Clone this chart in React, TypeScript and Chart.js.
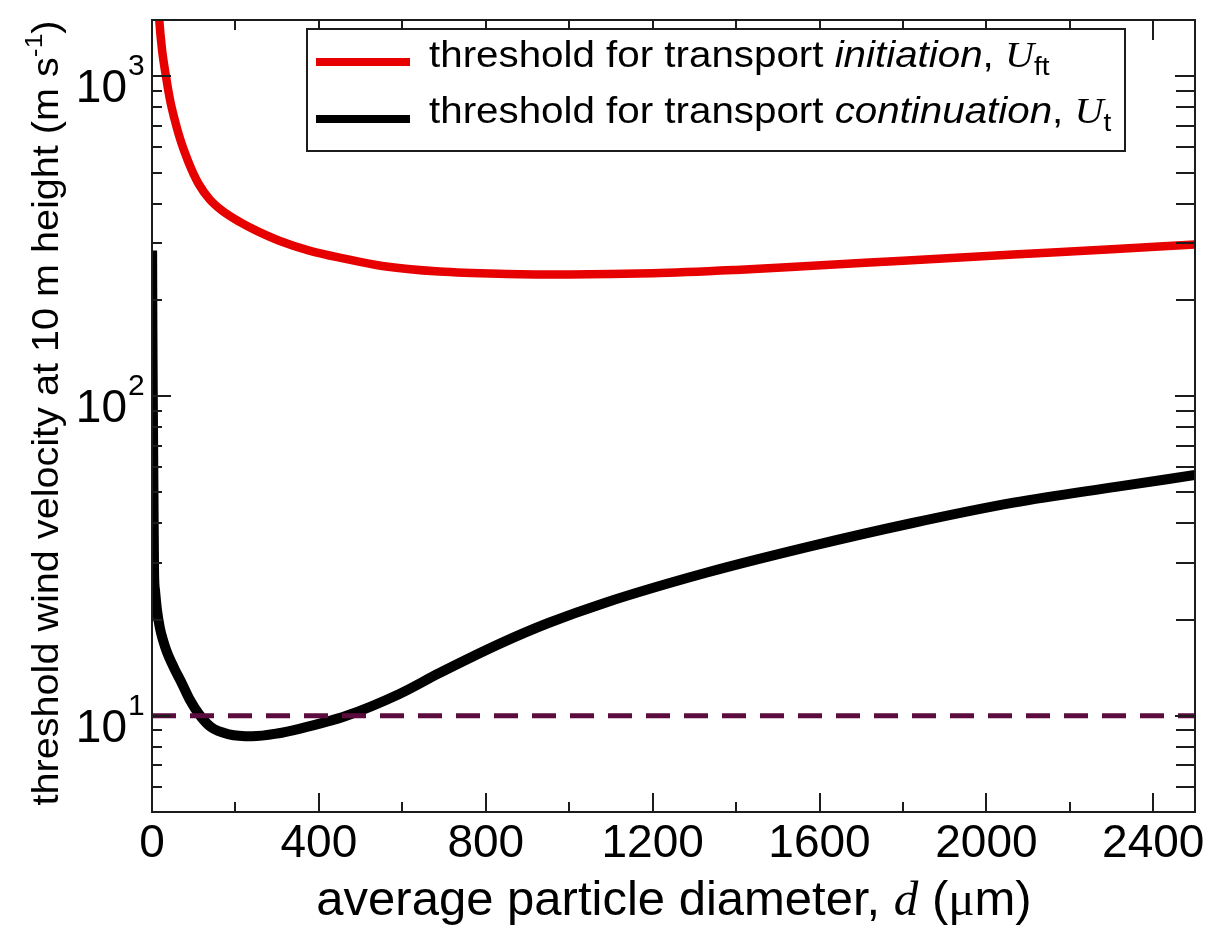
import React, { useEffect, useRef } from 'react';
import { Chart, registerables } from 'chart.js';

Chart.register(...registerables);

// ---- data ----
const diameterInitiation = [12, 17, 24, 34, 43, 53, 65, 77, 94, 113, 139, 168, 209, 250, 305, 377, 461, 552, 689, 850, 1000, 1200, 1400, 1573, 1800, 2065, 2300, 2500];
const thresholdInitiation = [2000, 1525, 1212, 990, 846, 743, 652, 585, 514, 458, 411, 380, 351, 329, 306, 285, 269, 255, 245, 241, 240, 242, 248, 255, 265, 277, 288, 298];

const diameterContinuation = [0.3, 1, 2, 3.5, 5, 7.2, 12, 19, 26, 36, 53, 72, 91, 113, 142, 185, 240, 300, 353, 466, 593, 689, 838, 950, 1083, 1328, 1575, 1820, 2065, 2310, 2500];
const thresholdContinuation = [285, 160, 95, 50, 28, 24.7, 21.4, 18.8, 17.3, 15.8, 14.1, 12.6, 11.2, 10.1, 9.2, 8.75, 8.63, 8.8, 9.1, 10, 11.7, 13.6, 16.9, 19.5, 22.5, 28, 33.8, 40, 46.4, 52, 56.6];

const referenceDiameter = [0, 2500];
const referenceVelocity = [10, 10];

const xMajorTicks = [0, 400, 800, 1200, 1600, 2000, 2400];
const xMinorTicks = [200, 600, 1000, 1400, 1800, 2200];
const yMajorTicks = [10, 100, 1000];
const yMinorTicks = [6, 7, 8, 9, 20, 30, 40, 50, 60, 70, 80, 90, 200, 300, 400, 500, 600, 700, 800, 900];

const X_MIN = 0, X_MAX = 2500, Y_MIN = 5, Y_MAX = 1500;

const SANS = "'Liberation Sans', Arial, Helvetica, sans-serif";
const SERIF = "'Liberation Serif', 'Times New Roman', serif";

type Seg = { text: string; font: string; dy?: number };

function drawSegs(ctx: CanvasRenderingContext2D, segs: Seg[], x: number, y: number, k: number, align: 'left' | 'center' | 'right', rotate = 0) {
  ctx.save();
  ctx.translate(x, y);
  if (rotate) ctx.rotate(rotate);
  ctx.scale(k, 1);
  ctx.textAlign = 'left';
  ctx.textBaseline = 'alphabetic';
  let total = 0;
  const widths: number[] = [];
  for (const s of segs) {
    ctx.font = s.font;
    const w = ctx.measureText(s.text).width;
    widths.push(w);
    total += w;
  }
  let cx = align === 'center' ? -total / 2 : align === 'right' ? -total : 0;
  segs.forEach((s, i) => {
    ctx.font = s.font;
    ctx.fillText(s.text, cx, s.dy || 0);
    cx += widths[i];
  });
  ctx.restore();
}

const framePlugin = {
  id: 'framePlugin',
  afterDatasetsDraw(chart: any) {
    const { ctx, chartArea: a, scales } = chart;
    const xs = scales.x;
    const ys = scales.y;
    ctx.save();
    ctx.strokeStyle = '#1c1c1c';
    ctx.lineWidth = 2;
    ctx.beginPath();
    for (const v of xMajorTicks) {
      const px = Math.round(xs.getPixelForValue(v));
      ctx.moveTo(px, a.bottom); ctx.lineTo(px, a.bottom - 19);
      ctx.moveTo(px, a.top); ctx.lineTo(px, a.top + 20);
    }
    for (const v of xMinorTicks) {
      const px = Math.round(xs.getPixelForValue(v));
      ctx.moveTo(px, a.bottom); ctx.lineTo(px, a.bottom - 10);
      ctx.moveTo(px, a.top); ctx.lineTo(px, a.top + 10);
    }
    for (const v of yMajorTicks) {
      const py = Math.round(ys.getPixelForValue(v));
      ctx.moveTo(a.left, py); ctx.lineTo(a.left + 19, py);
      ctx.moveTo(a.right, py); ctx.lineTo(a.right - 20, py);
    }
    for (const v of yMinorTicks) {
      const py = Math.round(ys.getPixelForValue(v));
      ctx.moveTo(a.left, py); ctx.lineTo(a.left + 10, py);
      ctx.moveTo(a.right, py); ctx.lineTo(a.right - 19, py);
    }
    ctx.stroke();
    ctx.strokeRect(a.left, a.top, a.right - a.left, a.bottom - a.top);

    // tick labels
    ctx.fillStyle = '#000';
    for (const v of xMajorTicks) {
      const px = xs.getPixelForValue(v);
      drawSegs(ctx, [{ text: String(v), font: `46px ${SANS}` }], px, 857, 1, 'center');
    }
    for (const v of yMajorTicks) {
      const py = ys.getPixelForValue(v);
      const exp = String(Math.round(Math.log10(v)));
      drawSegs(ctx, [{ text: '10', font: `46px ${SANS}` }], 127, py + 26, 1, 'right');
      drawSegs(ctx, [{ text: exp, font: `30px ${SANS}` }], 128, py - 1, 1, 'left');
    }

    // axis titles
    drawSegs(ctx, [
      { text: 'average particle diameter, ', font: `49px ${SANS}` },
      { text: 'd', font: `italic 49px ${SERIF}` },
      { text: ' (', font: `49px ${SANS}` },
      { text: 'μ', font: `49px ${SERIF}` },
      { text: 'm)', font: `49px ${SANS}` },
    ], 674, 915, 1, 'center');

    drawSegs(ctx, [
      { text: 'threshold wind velocity at 10 m height (m s', font: `36px ${SANS}` },
      { text: '-1', font: `24px ${SANS}`, dy: -16 },
      { text: ')', font: `36px ${SANS}` },
    ], 58, 413, 1.1, 'center', -Math.PI / 2);

    // legend
    const L = 307, T = 29, R = 1125, B = 151;
    ctx.fillStyle = '#fff';
    ctx.fillRect(L, T, R - L, B - T);
    ctx.strokeStyle = '#1c1c1c';
    ctx.lineWidth = 2;
    ctx.strokeRect(L, T, R - L, B - T);
    ctx.lineCap = 'butt';
    ctx.lineWidth = 8;
    ctx.strokeStyle = '#e60000';
    ctx.beginPath(); ctx.moveTo(316, 62); ctx.lineTo(410, 62); ctx.stroke();
    ctx.strokeStyle = '#000';
    ctx.beginPath(); ctx.moveTo(316, 119); ctx.lineTo(410, 119); ctx.stroke();
    ctx.fillStyle = '#000';
    const f = 36, k = 1.12;
    drawSegs(ctx, [
      { text: 'threshold for transport ', font: `${f}px ${SANS}` },
      { text: 'initiation', font: `italic ${f}px ${SANS}` },
      { text: ', ', font: `${f}px ${SANS}` },
      { text: 'U', font: `italic ${f}px ${SERIF}` },
      { text: 'ft', font: `${Math.round(f * 0.7)}px ${SANS}`, dy: 8 },
    ], 429, 67, k, 'left');
    drawSegs(ctx, [
      { text: 'threshold for transport ', font: `${f}px ${SANS}` },
      { text: 'continuation', font: `italic ${f}px ${SANS}` },
      { text: ', ', font: `${f}px ${SANS}` },
      { text: 'U', font: `italic ${f}px ${SERIF}` },
      { text: 't', font: `${Math.round(f * 0.7)}px ${SANS}`, dy: 8 },
    ], 429, 123, k, 'left');
    ctx.restore();
  },
};

export default function App() {
  const canvasRef = useRef<HTMLCanvasElement | null>(null);

  useEffect(() => {
    const canvas = canvasRef.current;
    if (!canvas) return;
    const toPts = (xs: number[], ys: number[]) => xs.map((x, i) => ({ x, y: ys[i] }));
    const chart = new Chart(canvas, {
      type: 'line',
      data: {
        datasets: [
          {
            label: 'reference 10 m/s',
            data: toPts(referenceDiameter, referenceVelocity),
            borderColor: '#5c0b3f',
            borderWidth: 5,
            borderDash: [24, 14],
            pointRadius: 0,
            order: 0,
          },
          {
            label: 'threshold for transport continuation, Ut',
            data: toPts(diameterContinuation, thresholdContinuation),
            borderColor: '#000000',
            borderWidth: 10,
            pointRadius: 0,
            cubicInterpolationMode: 'monotone',
            order: 1,
          },
          {
            label: 'threshold for transport initiation, Uft',
            data: toPts(diameterInitiation, thresholdInitiation),
            borderColor: '#e60000',
            borderWidth: 8.5,
            pointRadius: 0,
            cubicInterpolationMode: 'monotone',
            order: 2,
          },
        ],
      },
      options: {
        responsive: false,
        animation: false,
        devicePixelRatio: 1,
        layout: { padding: { left: 152, top: 20, right: 22, bottom: 126 } },
        plugins: { legend: { display: false }, tooltip: { enabled: false } },
        scales: {
          x: { type: 'linear', min: X_MIN, max: X_MAX, display: false },
          y: { type: 'logarithmic', min: Y_MIN, max: Y_MAX, display: false },
        },
      },
      plugins: [framePlugin],
    } as any);
    return () => chart.destroy();
  }, []);

  return (
    <div style={{ position: 'fixed', left: 0, top: 0, width: 1217, height: 938, background: '#fff' }}>
      <canvas ref={canvasRef} width={1217} height={938} style={{ display: 'block' }} />
    </div>
  );
}
